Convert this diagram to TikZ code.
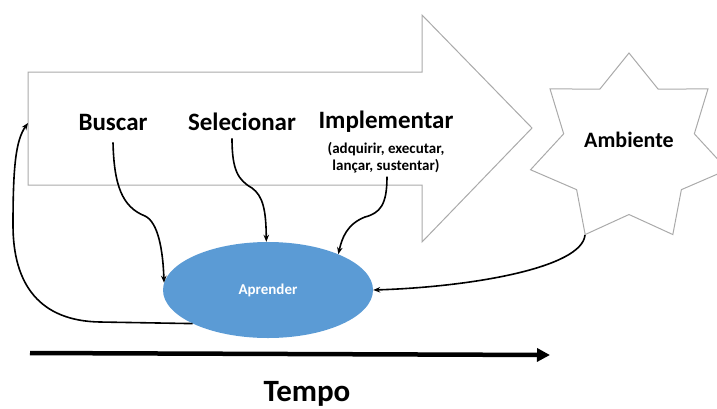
\documentclass[tikz,border=0pt]{standalone}
\usepackage{fontspec}
\setmainfont{Carlito}
\usetikzlibrary{arrows.meta,shapes.geometric}
\definecolor{shapegray}{RGB}{170,170,170}
\definecolor{aprblue}{RGB}{91,155,213}
\begin{document}
\begin{tikzpicture}[x=1pt,y=-1pt,
  outline/.style={draw=shapegray,line width=1pt,line join=miter},
  bigtxt/.style={font=\fontsize{25}{30}\selectfont\bfseries,inner sep=0pt,anchor=base},
  subtxt/.style={font=\fontsize{15}{17}\selectfont\bfseries,inner sep=0pt,anchor=base},
  conn/.style={draw=black,line width=1.6pt,-{Stealth[length=7pt,width=5.5pt]}},
]
\useasboundingbox (0,0) rectangle (717,408);
% big arrow
\draw[outline,fill=white] (28,72) -- (422,72) -- (422,15) -- (532,128) -- (422,242) -- (422,185) -- (28,185) -- cycle;
\coordinate (arrL) at (28,123);
% 7-point star
\draw[outline] (629,53) \foreach \k in {1,...,13}{ -- ({629+((mod(\k,2)==0) ? 101 : 67)*cos(90-\k*360/14)}, {148.5-((mod(\k,2)==0) ? 95.5 : 66)*sin(90-\k*360/14)}) } -- cycle;
\coordinate (sbl) at (585,235);
\node[font=\fontsize{22}{26}\selectfont\bfseries,inner sep=0pt,anchor=base] (amb) at (629,147) {Ambiente};
% texts
\node[bigtxt] (bus) at (113,130) {Buscar};
\node[bigtxt] (sel) at (242,130) {Selecionar};
\node[bigtxt] (imp) at (386,128) {Implementar};
\node[subtxt] (imp2) at (386,153) {(adquirir, executar,};
\node[subtxt] (imp3) at (386,170) {lançar, sustentar)};
% ellipse
\node[ellipse,fill=aprblue,minimum width=210pt,minimum height=96pt,inner sep=0pt,
  text=white,font=\fontsize{15}{18}\selectfont\bfseries] (apr) at (268,290) {Aprender};
% connectors
\draw[conn] ([yshift=-12pt]bus.south) .. controls (114,185) and (122,207) .. (145,216)
  .. controls (158,222) and (163,250) .. (apr.176);
\draw[conn] ([xshift=-10pt,yshift=-8pt]sel.south) .. controls (232,170) and (238,180) .. (252,188)
  .. controls (263,196) and (266,210) .. (apr.92);
\draw[conn] ([xshift=1pt,yshift=-4pt]imp3.south) .. controls (387,205) and (380,213) .. (365,217)
  .. controls (347,224) and (342,238) .. (apr.27);
\draw[conn] (sbl) .. controls (582,268) and (470,287) .. (apr.east);
\draw[conn] (apr.204) -- (100,322) .. controls (40,321) and (13,285) .. (13,225)
  .. controls (13,165) and (16,140) .. (arrL);
% time axis
\coordinate (t0) at (30,353);
\coordinate (t1) at (550,355);
\draw[line width=4.5pt,-{Triangle[length=13pt,width=13pt]}] (t0) -- (t1);
\node[font=\fontsize{31}{36}\selectfont\bfseries,inner sep=0pt,anchor=base] (tempo) at (307,401) {Tempo};
\end{tikzpicture}
\end{document}
